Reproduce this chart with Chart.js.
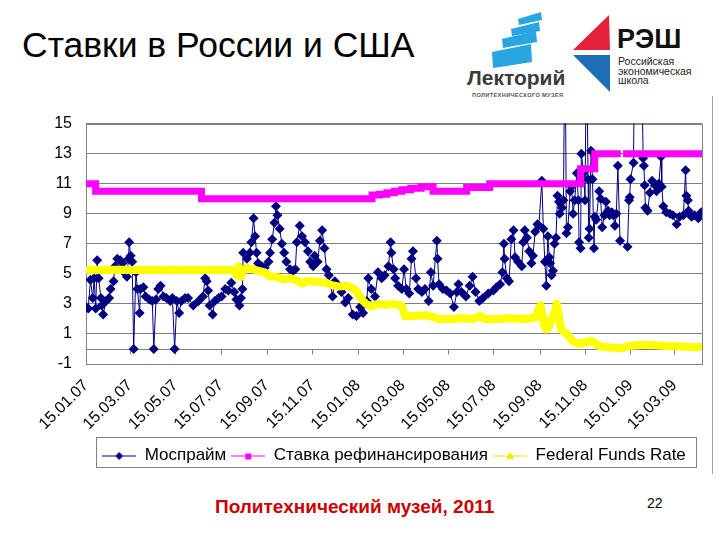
<!DOCTYPE html>
<html>
<head>
<meta charset="utf-8">
<script src="https://cdn.jsdelivr.net/npm/chart.js@4.4.0/dist/chart.umd.min.js"></script>
<style>
  body { margin: 0; background: #fff; font-family: 'Liberation Sans', Arial, sans-serif; }
  #page { position: relative; width: 720px; height: 540px; overflow: hidden; background: #fff; }
  #title { position: absolute; left: 22px; top: 25px; font-size: 35.5px; color: #000; white-space: nowrap; }
  #chart { position: absolute; left: 0; top: 100px; }
  #frameLine { position: absolute; left: 712px; top: 96px; width: 1px; height: 378px; background: #a0a0a0; }
  #footer { position: absolute; left: 215px; top: 496px; font-size: 19px; font-weight: bold; color: #cc0000; white-space: nowrap; }
  #pageNo { position: absolute; left: 647px; top: 495px; font-size: 14px; color: #000; }
  #logos { position: absolute; left: 440px; top: 0; }
</style>
</head>
<body>
<div id="page">
  <div id="title">Ставки в России и США</div>
  <svg id="logos" width="280" height="100" viewBox="440 0 280 100">
    <g fill="#29a6e0">
      <polygon points="518,19 541,12 542,20 519,25"/>
      <polygon points="511,29 539,22 540,31 512,36"/>
      <polygon points="502,39 536,31 537,42 503,48"/>
      <polygon points="492,52 531,44 532,62 493,68"/>
    </g>
    <text x="467" y="85" font-family="Liberation Sans, Arial" font-weight="bold" font-size="21" fill="#3a3a3a">Лекторий</text>
    <text x="472" y="97" font-family="Liberation Sans, Arial" font-weight="bold" font-size="5.6" fill="#555" textLength="91">ПОЛИТЕХНИЧЕСКОГО МУЗЕЯ</text>
    <polygon points="609,15 573,50 610,50" fill="#e3213b"/>
    <polygon points="573,55 610,55 610,92" fill="#1f6db5"/>
    <text x="617" y="48" font-family="Liberation Sans, Arial" font-weight="bold" font-size="27" fill="#111">РЭШ</text>
    <text x="618" y="65" font-family="Liberation Sans, Arial" font-size="10.5" fill="#222">Российская</text>
    <text x="618" y="75" font-family="Liberation Sans, Arial" font-size="10.5" fill="#222">экономическая</text>
    <text x="618" y="84" font-family="Liberation Sans, Arial" font-size="10.5" fill="#222">школа</text>
  </svg>
  <canvas id="chart" width="720" height="380"></canvas>
  <div id="frameLine"></div>
  <div id="footer">Политехнический музей, 2011</div>
  <div id="pageNo">22</div>
</div>
<script>
// x = days since 15.01.2007
const tickDays = [0, 59, 120, 181, 243, 304, 365, 425, 486, 547, 609, 670, 731, 790];
const tickLabels = ['15.01.07', '15.03.07', '15.05.07', '15.07.07', '15.09.07', '15.11.07', '15.01.08',
    '15.03.08', '15.05.08', '15.07.08', '15.09.08', '15.11.08', '15.01.09', '15.03.09'];
const yTicks = [-1, 1, 3, 5, 7, 9, 11, 13, 15];

const seriesNames = ['Моспрайм', 'Ставка рефинансирования', 'Federal Funds Rate'];

// Моспрайм
const mosDays = [0, 3, 6, 9, 11, 13, 15, 17, 20, 21, 23, 27, 31, 33, 37, 39, 42, 46, 49, 51, 55, 57, 58, 60, 62, 64,
    67, 69, 72, 73, 77, 80, 85, 89, 91, 94, 97, 100, 104, 108, 113, 116, 119, 122, 125, 128, 133, 137, 144, 151,
    157, 160, 162, 164, 166, 170, 173, 178, 182, 187, 191, 195, 199, 202, 206, 208, 210, 211, 216, 220, 222,
    225, 227, 229, 231, 236, 240, 245, 247, 250, 253, 255, 257, 260, 263, 266, 269, 274, 278, 281, 283, 287,
    290, 294, 298, 301, 305, 307, 311, 314, 317, 320, 323, 326, 331, 334, 339, 343, 348, 352, 358, 363, 368,
    372, 377, 379, 383, 388, 392, 397, 401, 406, 409, 410, 413, 415, 419, 424, 427, 430, 434, 437, 439, 443,
    446, 451, 455, 460, 463, 466, 471, 472, 474, 479, 484, 489, 494, 498, 500, 504, 510, 515, 519, 523, 528,
    533, 540, 547, 551, 556, 559, 561, 562, 565, 568, 571, 574, 576, 580, 585, 587, 589, 592, 595, 598, 600,
    603, 606, 608, 612, 614, 616, 618, 620, 622, 623, 625, 627, 629, 631, 633, 635, 636, 639, 641, 643, 645,
    647, 650, 652, 654, 656, 659, 661, 662, 664, 665, 668, 670, 672, 674, 675, 676, 678, 680, 682, 683, 685,
    689, 691, 693, 696, 698, 701, 703, 706, 708, 710, 712, 714, 717, 727, 729, 730, 731, 735, 737, 745, 748,
    749, 750, 751, 754, 757, 760, 764, 766, 769, 772, 773, 775, 779, 784, 788, 793, 797, 802, 805, 806, 808,
    809, 813, 817, 822, 826];
const mosRates = [2.8, 2.7, 4.6, 3.4, 4.7, 2.7, 5.9, 4.7, 3.4, 2.9, 2.3, 3.2, 3.4, 4.0, 4.5, 5.5, 6.0, 5.9, 5.7, 5.1,
    4.8, 6.0, 7.1, 6.2, 5.8, 0, 5.1, 4.0, 2.4, 4.0, 4.1, 3.5, 3.3, 3.2, 0, 3.3, 4.0, 4.2, 3.5, 3.4, 3.2, 3.4,
    0, 3.2, 2.4, 3.2, 3.4, 3.4, 2.9, 3.2, 3.5, 4.7, 4.5, 3.9, 2.9, 2.3, 3.2, 3.4, 3.5, 4.0, 3.9, 4.4, 3.8,
    3.3, 2.9, 3.4, 4.0, 6.4, 6.0, 6.4, 7.1, 8.7, 7.5, 6.4, 5.7, 5.5, 5.4, 5.8, 6.4, 7.3, 8.4, 9.5, 8.9, 8.0,
    7.0, 6.4, 5.8, 5.3, 5.2, 5.3, 7.1, 8.2, 7.5, 7.1, 6.5, 5.8, 5.5, 6.2, 5.8, 7.2, 7.9, 6.7, 5.3, 4.9, 3.5,
    4.5, 4.2, 3.8, 3.1, 3.4, 2.3, 2.2, 2.8, 2.4, 3.2, 4.7, 4.0, 3.5, 5.1, 4.7, 4.9, 5.5, 7.1, 6.4, 5.3, 4.7,
    4.2, 4.0, 5.3, 4.0, 3.7, 6.0, 6.5, 4.7, 4.0, 3.8, 4.0, 3.2, 5.1, 4.2, 7.2, 6.0, 4.3, 4.0, 3.9, 3.7, 2.8,
    3.8, 4.3, 3.8, 3.5, 4.2, 4.8, 3.8, 3.2, 3.4, 3.7, 3.9, 4.1, 4.3, 5.1, 7.0, 6.0, 4.7, 4.5, 7.3, 7.9, 6.1,
    5.8, 5.5, 7.1, 7.9, 7.4, 6.5, 5.7, 6.2, 7.8, 8.3, 8.2, 11.2, 8.0, 5.8, 4.2, 7.5, 6.1, 5.7, 4.9, 5.2, 7.0,
    7.4, 10.2, 9.8, 9.0, 9.4, 9.9, 22, 7.7, 8.1, 10.5, 10.8, 9.0, 9.9, 11.7, 9.9, 7.1, 6.7, 13.0, 11.7, 9.9,
    22, 11.3, 7.4, 8.0, 13.2, 11.3, 6.7, 8.8, 8.6, 10.5, 10.0, 8.1, 8.9, 9.8, 9.2, 8.9, 9.1, 8.9, 8.2, 9.0,
    12.2, 7.2, 6.8, 9.9, 10.1, 11.3, 12.4, 22, 22, 12.7, 12.2, 10.9, 9.4, 9.2, 10.4, 11.2, 10.9, 10.5, 11.0,
    12.8, 10.8, 9.5, 9.1, 9.0, 8.9, 8.3, 8.8, 8.9, 11.9, 10.2, 9.9, 9.2, 8.8, 8.9, 8.7, 9.1];

// Ставка рефинансирования (value holds until the next day listed)
const refiDays = [0, 13, 155, 384, 394, 404, 414, 424, 436, 450, 466, 511, 542, 664, 683, 718, 719, 721, 827];
const refiRates = [11, 10.5, 10, 10.25, 10.3, 10.4, 10.5, 10.6, 10.7, 10.8, 10.5, 10.75, 11, 12, 13, 13, null, 13, 13];

// Federal Funds Rate
const ffrDays = [0, 40, 80, 120, 160, 198, 202, 205, 208, 211, 216, 224, 232, 240, 246, 255, 265, 275, 282, 290,
    296, 305, 315, 322, 330, 340, 350, 358, 364, 370, 376, 382, 392, 402, 412, 424, 428, 440, 455, 468, 472, 490,
    505, 520, 529, 535, 550, 570, 590, 604, 607, 610, 613, 615, 618, 622, 626, 629, 632, 635, 638, 642, 646,
    650, 654, 660, 666, 672, 678, 683, 688, 695, 705, 715, 720, 728, 740, 752, 765, 778, 790, 805, 818, 827];
const ffrRates = [5.25, 5.28, 5.25, 5.28, 5.25, 5.25, 4.9, 5.5, 4.8, 5.2, 5.4, 5.3, 5.2, 5.1, 4.85, 4.8, 4.65, 4.7,
    4.6, 4.35, 4.5, 4.5, 4.45, 4.4, 4.25, 4.15, 4.2, 4.05, 3.8, 3.3, 3.0, 2.85, 3.0, 2.95, 3.0, 2.9, 2.2, 2.2,
    2.25, 2.1, 2.0, 2.0, 2.05, 2.0, 2.2, 2.0, 2.0, 2.05, 2.0, 2.1, 2.6, 2.9, 2.2, 1.6, 1.3, 1.5, 2.1, 2.3, 3.0,
    2.1, 1.3, 1.1, 1.0, 0.7, 0.5, 0.35, 0.4, 0.45, 0.55, 0.4, 0.2, 0.15, 0.1, 0.05, 0.05, 0.2, 0.25, 0.28, 0.25,
    0.2, 0.18, 0.15, 0.12, 0.15];

const NAVY = '#000080', PINK = '#ff00ff', YELLOW = '#ffff00';

function toPoints(days, vals) {
    return days.map((d, i) => ({x: d, y: vals[i]}));
}

// small line+marker pictures for the legend
function legendSymbol(color, shape) {
    const c = document.createElement('canvas');
    c.width = 34;
    c.height = 12;
    const g = c.getContext('2d');
    g.strokeStyle = color;
    g.lineWidth = 1;
    g.beginPath();
    g.moveTo(0, 6.5);
    g.lineTo(34, 6.5);
    g.stroke();
    g.fillStyle = color;
    g.beginPath();
    if (shape === 'diamond') {
        g.moveTo(17, 2.5); g.lineTo(21, 6.5); g.lineTo(17, 10.5); g.lineTo(13, 6.5);
    } else if (shape === 'square') {
        g.rect(14, 4, 6, 6);
    } else {
        g.moveTo(17, 2.5); g.lineTo(21, 9.5); g.lineTo(13, 9.5);
    }
    g.closePath();
    g.fill();
    return c;
}
const legendPics = [legendSymbol(NAVY, 'diamond'), legendSymbol(PINK, 'square'), legendSymbol('#e8e800', 'triangle')];

// plot frame, zero line with tick marks, legend border
const excelFrame = {
    id: 'excelFrame',
    beforeDatasetsDraw(chart) {
        const {ctx, chartArea: a, scales: {x, y}} = chart;
        ctx.save();
        ctx.strokeStyle = '#808080';
        ctx.lineWidth = 1;
        const y0 = Math.round(y.getPixelForValue(0)) + 0.5;
        ctx.beginPath();
        ctx.moveTo(a.left, y0);
        ctx.lineTo(a.right, y0);
        tickDays.forEach(d => {
            const px = Math.round(x.getPixelForValue(d)) + 0.5;
            ctx.moveTo(px, y0);
            ctx.lineTo(px, y0 + 5);
        });
        ctx.stroke();
        ctx.strokeRect(Math.round(a.left) + 0.5, Math.round(a.top) + 0.5,
            Math.round(a.right - a.left), Math.round(a.bottom - a.top));
        ctx.restore();
    },
    afterDraw(chart) {
        const lg = chart.legend;
        if (!lg || !lg.legendHitBoxes.length) return;
        const boxes = lg.legendHitBoxes;
        const left = boxes[0].left - 6;
        const last = boxes[boxes.length - 1];
        const right = last.left + last.width + 10;
        const top = boxes[0].top - 10;
        const bottom = top + 30;
        const {ctx} = chart;
        ctx.save();
        ctx.strokeStyle = '#808080';
        ctx.lineWidth = 1;
        ctx.strokeRect(Math.round(left) + 0.5, Math.round(top) + 0.5, Math.round(right - left), Math.round(bottom - top));
        ctx.restore();
    }
};

Chart.defaults.font.family = "'Liberation Sans', Arial, sans-serif";
Chart.defaults.color = '#000';

new Chart(document.getElementById('chart'), {
    type: 'line',
    data: {
        datasets: [{
            label: seriesNames[0],
            data: toPoints(mosDays, mosRates),
            borderColor: NAVY,
            backgroundColor: NAVY,
            borderWidth: 1,
            pointStyle: 'rectRot',
            pointRadius: 5,
            pointBorderWidth: 0,
            order: 3
        }, {
            label: seriesNames[1],
            data: toPoints(refiDays, refiRates),
            borderColor: PINK,
            backgroundColor: PINK,
            borderWidth: 7,
            borderCapStyle: 'butt',
            stepped: 'before',
            spanGaps: false,
            pointRadius: 0,
            order: 2
        }, {
            label: seriesNames[2],
            data: toPoints(ffrDays, ffrRates),
            borderColor: YELLOW,
            backgroundColor: YELLOW,
            borderWidth: 8,
            borderJoinStyle: 'round',
            pointRadius: 0,
            order: 1
        }]
    },
    options: {
        responsive: false,
        animation: false,
        devicePixelRatio: 1,
        layout: {padding: {left: 0, right: 18, top: 23, bottom: 6}},
        scales: {
            x: {
                type: 'linear',
                min: 0,
                max: 827,
                afterBuildTicks: s => { s.ticks = tickDays.map(v => ({value: v})); },
                afterFit: s => { s.height = 78; },
                ticks: {
                    autoSkip: false,
                    minRotation: 45,
                    maxRotation: 45,
                    padding: 4,
                    font: {size: 16},
                    callback: (v, i) => tickLabels[i]
                },
                grid: {display: false},
                border: {display: false}
            },
            y: {
                min: -1,
                max: 15,
                afterBuildTicks: s => { s.ticks = yTicks.map(v => ({value: v})); },
                afterFit: s => { s.width = 86; },
                ticks: {padding: 14, font: {size: 16}},
                grid: {color: '#808080', drawTicks: false},
                border: {display: false}
            }
        },
        plugins: {
            legend: {
                position: 'bottom',
                fullSize: false,
                labels: {
                    usePointStyle: true,
                    pointStyleWidth: 34,
                    padding: 5,
                    font: {size: 17},
                    generateLabels: chart => chart.data.datasets.map((ds, i) => ({
                        text: ds.label,
                        pointStyle: legendPics[i],
                        fillStyle: ds.borderColor,
                        strokeStyle: ds.borderColor,
                        lineWidth: 0,
                        datasetIndex: i,
                        hidden: false
                    }))
                }
            },
            tooltip: {enabled: false}
        }
    },
    plugins: [excelFrame]
});
</script>
</body>
</html>
